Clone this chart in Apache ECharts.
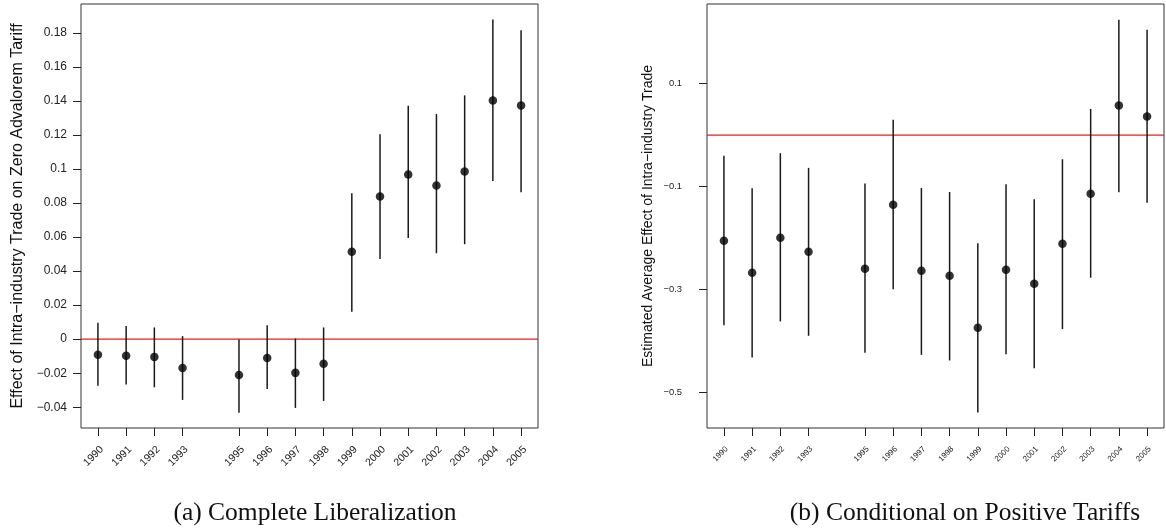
<!DOCTYPE html>
<html>
<head>
<meta charset="utf-8">
<script src="https://cdn.jsdelivr.net/npm/echarts@6/dist/echarts.min.js"></script>
<style>
  html, body { margin: 0; padding: 0; background: #fff; }
  #chart { width: 1166px; height: 531px; }
</style>
</head>
<body>
<div id="chart"></div>
<script>
// years (no 1994 in the data)
var years = [1990, 1991, 1992, 1993, 1995, 1996, 1997, 1998, 1999, 2000, 2001, 2002, 2003, 2004, 2005]

// (a) complete liberalization: estimate and 95% interval
var estA = [-0.0092, -0.0098, -0.0104, -0.0169, -0.0210, -0.0110, -0.0198, -0.0145, 0.0514, 0.0838, 0.0968, 0.0903, 0.0985, 0.1403, 0.1374]
var loA = [-0.0273, -0.0267, -0.0283, -0.0357, -0.0432, -0.0293, -0.0404, -0.0363, 0.0161, 0.0471, 0.0595, 0.0505, 0.0558, 0.0930, 0.0864]
var hiA = [0.0096, 0.0077, 0.0069, 0.0018, -0.0002, 0.0082, 0.0004, 0.0069, 0.0858, 0.1205, 0.1372, 0.1323, 0.1433, 0.1879, 0.1816]

// (b) conditional on positive tariffs
var estB = [-0.2055, -0.2680, -0.1997, -0.2270, -0.2600, -0.1354, -0.2640, -0.2737, -0.3750, -0.2620, -0.2893, -0.2114, -0.1140, 0.0575, 0.0360]
var loB = [-0.3700, -0.4330, -0.3626, -0.3906, -0.4237, -0.3002, -0.4276, -0.4386, -0.5400, -0.4263, -0.4535, -0.3776, -0.2776, -0.1112, -0.1315]
var hiB = [-0.0405, -0.1035, -0.0353, -0.0639, -0.0945, 0.0296, -0.1029, -0.1107, -0.2106, -0.0957, -0.1249, -0.0470, 0.0510, 0.2244, 0.2050]

var yTicksA = [-0.04, -0.02, 0, 0.02, 0.04, 0.06, 0.08, 0.1, 0.12, 0.14, 0.16, 0.18]
var yTicksB = [-0.5, -0.3, -0.1, 0.1]

var refLine = [0]

var captionA = '(a) Complete Liberalization'
var captionB = '(b) Conditional on Positive Tariffs'
var yNameA = 'Effect of Intra\u2212industry Trade on Zero Advalorem Tariff'
var yNameB = 'Estimated Average Effect of Intra\u2212industry Trade'

var sans = 'Liberation Sans, Arial, sans-serif'
var serif = 'Liberation Serif, serif'

function fmt (v) {
  return String(+v.toFixed(2)).replace('-', '\u2212')
}

function xAxisOf (idx, size, margin) {
  return {
    type: 'value',
    gridIndex: idx,
    min: 1989.4,
    max: 2005.6,
    splitLine: { show: false },
    axisLine: { show: false, onZero: false },
    axisTick: {
      show: true,
      length: 8,
      customValues: years,
      lineStyle: { color: '#222', width: 1 }
    },
    axisLabel: {
      customValues: years,
      rotate: 45,
      margin: margin,
      verticalAlign: 'top',
      fontFamily: sans,
      fontSize: size,
      color: '#222',
      formatter: function (v) { return String(v) }
    }
  }
}

function yAxisOf (idx, min, max, ticks, size, margin, name, nameSize, nameGap) {
  return {
    type: 'value',
    gridIndex: idx,
    min: min,
    max: max,
    splitLine: { show: false },
    axisLine: { show: false, onZero: false },
    axisTick: {
      show: true,
      length: 8,
      customValues: ticks,
      lineStyle: { color: '#222', width: 1 }
    },
    axisLabel: {
      customValues: ticks,
      margin: margin,
      fontFamily: sans,
      fontSize: size,
      color: '#222',
      formatter: fmt
    },
    name: name,
    nameLocation: 'middle',
    nameGap: nameGap,
    nameTextStyle: { fontFamily: sans, fontSize: nameSize, color: '#111' }
  }
}

// horizontal reference line across the whole plot area
function zeroLine (idx) {
  return {
    type: 'custom',
    xAxisIndex: idx,
    yAxisIndex: idx,
    silent: true,
    z: 2,
    data: refLine.map(function (v) { return [1990, v] }),
    renderItem: function (params, api) {
      var cs = params.coordSys
      var p = api.coord([api.value(0), api.value(1)])
      return {
        type: 'line',
        shape: { x1: cs.x, y1: p[1], x2: cs.x + cs.width, y2: p[1] },
        style: { stroke: '#e41e1e', lineWidth: 1.2 }
      }
    }
  }
}

function bars (idx, lo, hi) {
  return {
    type: 'custom',
    xAxisIndex: idx,
    yAxisIndex: idx,
    silent: true,
    z: 3,
    data: years.map(function (y, i) { return [y, lo[i], hi[i]] }),
    renderItem: function (params, api) {
      var a = api.coord([api.value(0), api.value(1)])
      var b = api.coord([api.value(0), api.value(2)])
      return {
        type: 'line',
        shape: { x1: a[0], y1: a[1], x2: b[0], y2: b[1] },
        style: { stroke: '#1a1a1a', lineWidth: 1.5 }
      }
    }
  }
}

function points (idx, est) {
  return {
    type: 'scatter',
    xAxisIndex: idx,
    yAxisIndex: idx,
    symbol: 'circle',
    symbolSize: 8.5,
    z: 4,
    itemStyle: { color: '#000' },
    data: years.map(function (y, i) { return [y, est[i]] })
  }
}

var chart = echarts.init(document.getElementById('chart'))
var option = {
  animation: false,
  backgroundColor: '#fff',
  title: [
    {
      text: captionA,
      left: 310,
      top: 495,
      textAlign: 'center',
      textStyle: { fontFamily: serif, fontSize: 25.5, fontWeight: 'normal', color: '#111' }
    },
    {
      text: captionB,
      left: 960,
      top: 495,
      textAlign: 'center',
      textStyle: { fontFamily: serif, fontSize: 25.5, fontWeight: 'normal', color: '#111' }
    }
  ],
  grid: [
    { left: 81, top: 4, width: 457, height: 424, show: true, borderColor: '#333', borderWidth: 1 },
    { left: 707, top: 4, width: 457, height: 424, show: true, borderColor: '#333', borderWidth: 1 }
  ],
  xAxis: [xAxisOf(0, 10.5, 16), xAxisOf(1, 8, 17)],
  yAxis: [
    yAxisOf(0, -0.0522, 0.197, yTicksA, 12, 14, yNameA, 16, 55),
    yAxisOf(1, -0.570, 0.255, yTicksB, 9.4, 25, yNameB, 14, 52)
  ],
  series: [
    zeroLine(0),
    bars(0, loA, hiA),
    points(0, estA),
    zeroLine(1),
    bars(1, loB, hiB),
    points(1, estB)
  ]
}
chart.setOption(option)
</script>
</body>
</html>
